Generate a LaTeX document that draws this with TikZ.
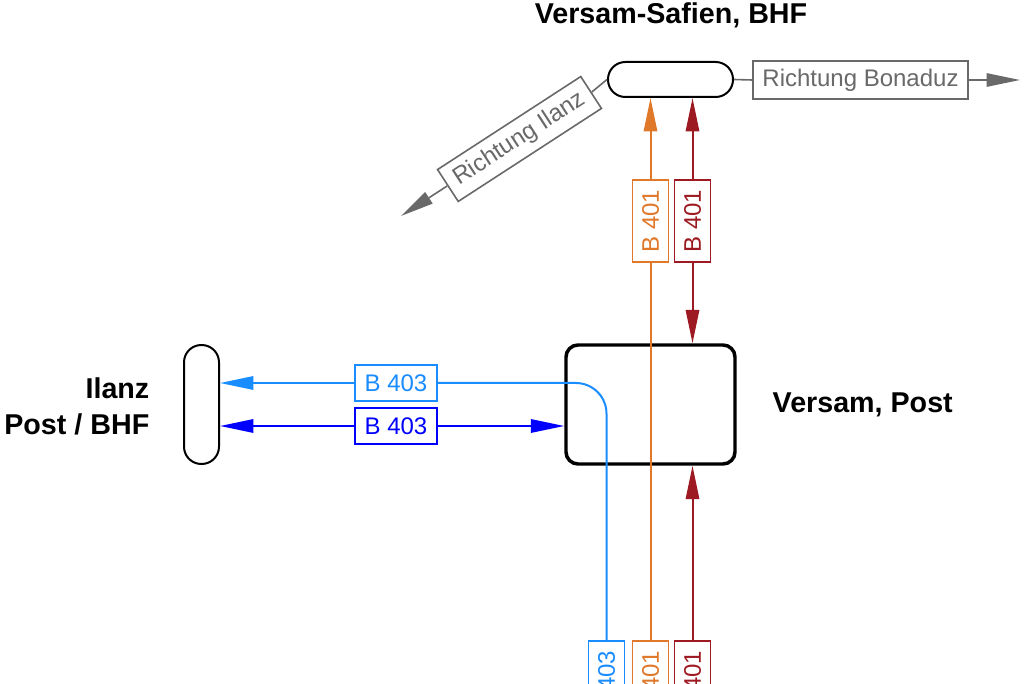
\documentclass[tikz,border=0pt]{standalone}
\usepackage{fontspec}
\setmainfont{Liberation Sans}
\usepackage{tikz}
\usetikzlibrary{arrows.meta}
\usepackage{xcolor}

\definecolor{lineOrange}{RGB}{224,120,42}
\definecolor{lineRed}{RGB}{158,26,34}
\definecolor{lineSky}{RGB}{25,140,255}
\definecolor{lineBlue}{RGB}{0,0,255}
\definecolor{dirGray}{RGB}{105,105,105}

\tikzset{
  stop/.style={draw=black, line width=1.5pt, rounded corners=13pt, inner sep=0pt},
  busbox/.style={draw=#1, text=#1, fill=white, line width=1.2pt, inner sep=0pt, font=\fontsize{18}{20}\selectfont},
  hbox/.style={busbox=#1, minimum width=61.5pt, minimum height=27pt},
  vbox/.style={busbox=#1, rotate=90, minimum width=61.5pt, minimum height=27pt},
  dirbox/.style={draw=dirGray, text=dirGray, fill=white, line width=1.2pt, inner xsep=7pt, minimum height=28.5pt, font=\fontsize{18}{20}\selectfont},
  stopname/.style={font=\fontsize{21.5}{27}\selectfont\bfseries},
  tip/.style={-{Triangle[length=25pt,width=10pt]}},
  busline/.style={line width=1.5pt},
}

\begin{document}
\begin{tikzpicture}[x=0.75pt,y=0.75pt,yscale=-1,xscale=1]
\useasboundingbox (0,0) rectangle (1026,684);
\clip (0,0) rectangle (1026,684);

%Stops
\node (vs) [stop, minimum width=93.75pt, minimum height=26.25pt] at (670.5,79.5) {};
\node (vp) [stop, line width=2.6pt, rounded corners=9pt, minimum width=126.75pt, minimum height=89.25pt] at (650.5,404.5) {};
\node (il) [stop, minimum width=26.25pt, minimum height=89.25pt] at (201.5,404.5) {};

% Text Node
\node (vsname) [stopname] at (671,15) {Versam-Safien, BHF};
\node (vpname) [stopname, anchor=west] at (768,405) {Versam, Post};
\node (ilname) [stopname, anchor=east, align=right] at (154,406) {Ilanz\\Post / BHF};

%Directions
\node (bon) [dirbox] at (860.5,80) {Richtung Bonaduz};
\coordinate (bontip) at (1020,80);
\draw [dirGray, line width=1.2pt] (vs.east) -- (bon.west);
\draw [dirGray, line width=1.2pt, tip] (bon.east) -- (bontip);

\node (ilz) [dirbox, rotate=33] at (519.5,139) {Richtung Ilanz};
\coordinate (ilztip) at (401,216);
\draw [dirGray, line width=1.2pt] (vs.west) -- (ilz.east);
\draw [dirGray, line width=1.2pt, tip] (ilz.west) -- (ilztip);

%Bus labels
\node (or1) [vbox=lineOrange] at (650.5,221) {B 401};
\node (rd1) [vbox=lineRed] at (692.5,221) {B 401};
\node (sk1) [hbox=lineSky] at (396,383) {B 403};
\node (bl1) [hbox=lineBlue] at (396,426) {B 403};
\node (sk2) [vbox=lineSky] at (606.5,682) {B 403};
\node (or2) [vbox=lineOrange] at (650.5,682) {B 401};
\node (rd2) [vbox=lineRed] at (692.5,682) {B 401};

%Straight Lines
\draw [busline, lineOrange, tip] (or1.east) -- (or1.east |- vs.south);
\draw [busline, lineOrange] (or2.east) -- (or1.west);
\draw [busline, lineRed, tip] (rd1.east) -- (rd1.east |- vs.south);
\draw [busline, lineRed, tip] (rd1.west) -- (rd1.west |- vp.north);
\draw [busline, lineRed, tip] (rd2.east) -- (rd2.east |- vp.south);
\draw [busline, lineSky, rounded corners=23pt] (sk2.east) |- (sk1.east);
\draw [busline, lineSky, tip] (sk1.west) -- (il.east |- sk1.west);
\draw [busline, lineBlue, tip] (bl1.west) -- (il.east |- bl1.west);
\draw [busline, lineBlue, tip] (bl1.east) -- (vp.west |- bl1.east);

\end{tikzpicture}
\end{document}
